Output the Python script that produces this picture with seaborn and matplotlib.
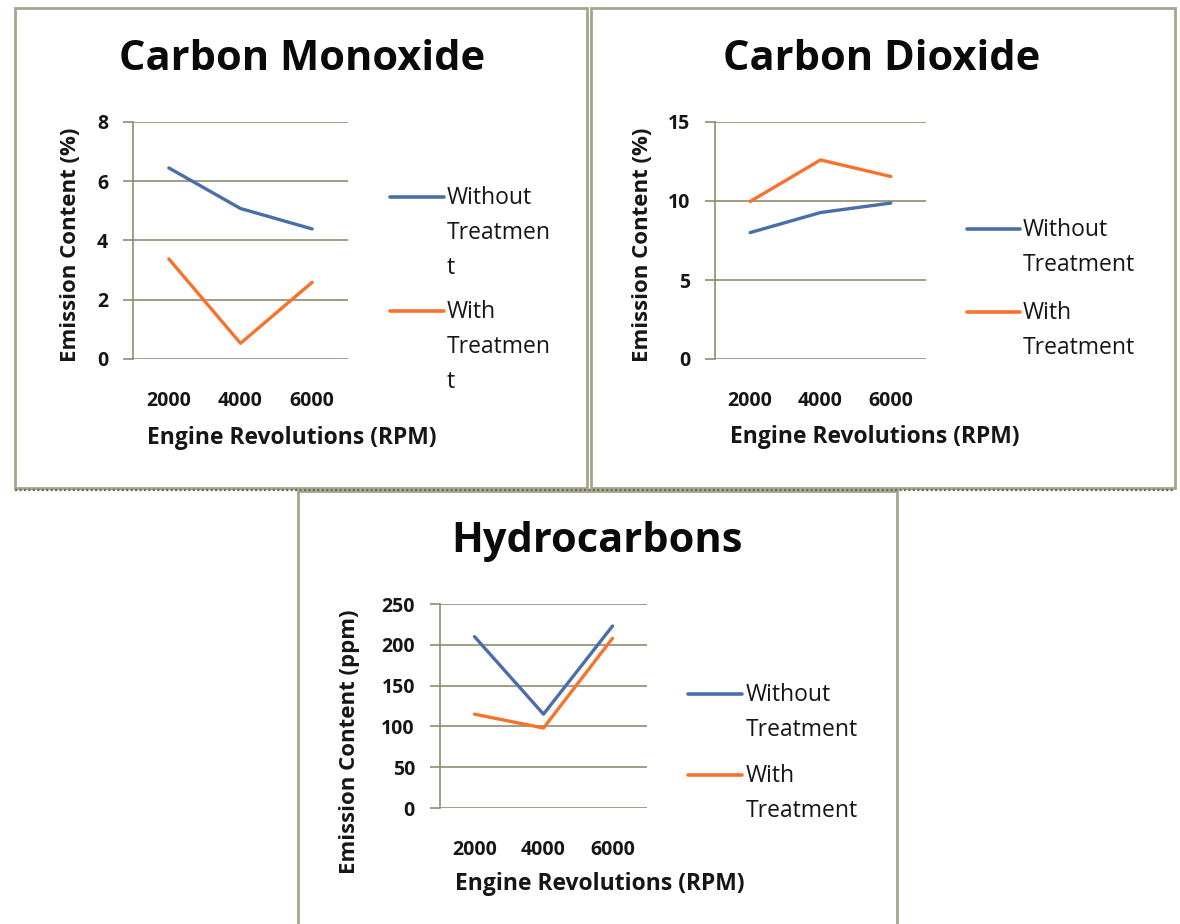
import matplotlib
matplotlib.use("Agg")
import matplotlib.pyplot as plt
import seaborn as sns
import pandas as pd
from matplotlib.patches import Rectangle
from matplotlib.lines import Line2D

# ---------------- data ----------------
rpm = ["2000", "4000", "6000"]
series_names = ["Without Treatment", "With Treatment"]
co_without = [6.45, 5.08, 4.39]
co_with = [3.38, 0.53, 2.59]
co2_without = [8.0, 9.27, 9.87]
co2_with = [9.97, 12.6, 11.55]
hc_without = [210, 115, 223]
hc_with = [115, 98, 208]

co_yticks = [0, 2, 4, 6, 8]
co2_yticks = [0, 5, 10, 15]
hc_yticks = [0, 50, 100, 150, 200, 250]

# ---------------- style ----------------
sns.set_theme(style="white")
plt.rcParams["font.family"] = ["Open Sans", "DejaVu Sans"]

W, H = 1180, 924
fig = plt.figure(figsize=(11.8, 9.24), dpi=100)
fig.patch.set_facecolor("white")

BLUE = "#4A6FA8"
ORANGE = "#F7722B"
GRID = "#8F8C70"
BORDER = "#A6A58C"
TXT = "#161616"


def fx(px):
    return px / W


def fy(py):
    return 1 - py / H


# panel borders
for (x0, y0, x1, y1) in [(15, 8, 587, 488), (591, 8, 1175, 488), (298, 491, 897, 940)]:
    fig.add_artist(Rectangle((fx(x0), fy(y1)), (x1 - x0) / W, (y1 - y0) / H,
                             fill=False, ec=BORDER, lw=2.0, transform=fig.transFigure))
fig.add_artist(Line2D([fx(15), fx(1175)], [fy(489.5), fy(489.5)], color="#6b6a5a",
                      lw=1.6, ls=(0, (1, 1)), transform=fig.transFigure))

panels = [
    dict(title="Carbon Monoxide", without=co_without, with_=co_with, yticks=co_yticks,
         ylabel="Emission Content (%)", box=(133, 122, 348, 359),
         title_xy=(302, 60), xlabel_xy=(292, 438), ylabel_xy=(70, 245),
         legend_labels=["Without\nTreatmen\nt", "With\nTreatmen\nt"],
         legend_x=(390, 444, 447), legend_y=(197, 311)),
    dict(title="Carbon Dioxide", without=co2_without, with_=co2_with, yticks=co2_yticks,
         ylabel="Emission Content (%)", box=(715, 122, 926, 359),
         title_xy=(882, 60), xlabel_xy=(875, 437), ylabel_xy=(643, 245),
         legend_labels=["Without\nTreatment", "With\nTreatment"],
         legend_x=(967, 1020, 1023), legend_y=(229, 312)),
    dict(title="Hydrocarbons", without=hc_without, with_=hc_with, yticks=hc_yticks,
         ylabel="Emission Content (ppm)", box=(440, 604, 647, 808),
         title_xy=(597, 541), xlabel_xy=(600, 884), ylabel_xy=(350, 742),
         legend_labels=["Without\nTreatment", "With\nTreatment"],
         legend_x=(688, 742, 746), legend_y=(694, 775)),
]

for p in panels:
    l, t, r, b = p["box"]
    ax = fig.add_axes([fx(l), fy(b), (r - l) / W, (b - t) / H])
    df = pd.DataFrame({
        "rpm": rpm * 2,
        "value": list(p["without"]) + list(p["with_"]),
        "series": [series_names[0]] * len(rpm) + [series_names[1]] * len(rpm),
    })
    sns.lineplot(data=df, x="rpm", y="value", hue="series", palette=[BLUE, ORANGE],
                 linewidth=2.4, ax=ax, legend=False, sort=False)
    ax.set_xlim(-0.5, len(rpm) - 0.5)
    ax.set_ylim(p["yticks"][0], p["yticks"][-1])
    ax.set_yticks(p["yticks"])
    ax.set_xlabel("")
    ax.set_ylabel("")
    ax.set_facecolor("none")
    ax.yaxis.grid(True, color=GRID, linewidth=1.2)
    ax.xaxis.grid(False)
    for s in ["top", "right", "bottom"]:
        ax.spines[s].set_visible(False)
    ax.spines["left"].set_color(GRID)
    ax.spines["left"].set_linewidth(1.2)
    ax.tick_params(axis="y", left=True, length=7, width=1.2, color=GRID, pad=11,
                   labelsize=14, labelcolor=TXT)
    ax.tick_params(axis="x", bottom=False, length=0, pad=23, labelsize=14, labelcolor=TXT)
    for lab in ax.get_xticklabels() + ax.get_yticklabels():
        lab.set_fontweight("bold")
    for line in ax.get_lines():
        line.set_clip_on(False)

    fig.text(fx(p["title_xy"][0]), fy(p["title_xy"][1]), p["title"], ha="center", va="center",
             fontsize=30, fontweight="bold", color="#0a0a0a")
    fig.text(fx(p["xlabel_xy"][0]), fy(p["xlabel_xy"][1]), "Engine Revolutions (RPM)",
             ha="center", va="center", fontsize=16.5, fontweight="bold", color=TXT)
    fig.text(fx(p["ylabel_xy"][0]), fy(p["ylabel_xy"][1]), p["ylabel"], ha="center",
             va="center", rotation=90, fontsize=16, fontweight="bold", color=TXT)

    hx0, hx1, tx = p["legend_x"]
    for lab, yy, col in zip(p["legend_labels"], p["legend_y"], [BLUE, ORANGE]):
        fig.add_artist(Line2D([fx(hx0), fx(hx1)], [fy(yy), fy(yy)], color=col, lw=2.6,
                              transform=fig.transFigure))
        fig.text(fx(tx), fy(yy - 11), lab, ha="left", va="top", fontsize=16.5,
                 color=TXT, linespacing=1.6)

fig.savefig("out.png", dpi=100, facecolor="white")
